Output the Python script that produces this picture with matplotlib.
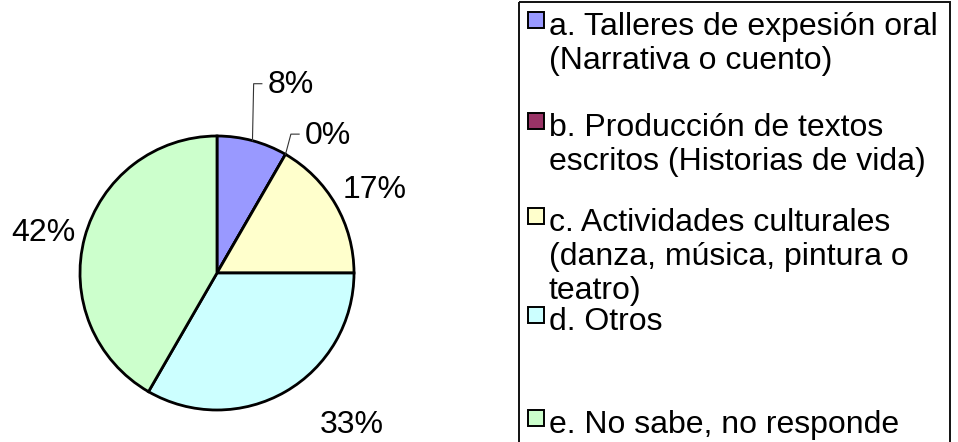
#!/usr/bin/env python3
"""Pie chart of preferred activities with a tall boxed legend on the right."""

import numpy as np
import matplotlib

matplotlib.use("Agg")
import matplotlib.pyplot as plt
from matplotlib.patches import Rectangle

# counts behind the rounded percentages (24 answers -> 8%, 0%, 17%, 33%, 42%)
categories = ["a", "b", "c", "d", "e"]
counts = [2, 0, 4, 8, 10]
pct_labels = ["8%", "0%", "17%", "33%", "42%"]
legend_lines = [
    ["a. Talleres de expesión oral", "(Narrativa o cuento)"],
    ["b. Producción de textos", "escritos (Historias de vida)"],
    ["c. Actividades culturales", "(danza, música, pintura o", "teatro)"],
    ["d. Otros"],
    ["e. No sabe, no responde"],
]
colors = ["#9999FF", "#993366", "#FFFFCC", "#CCFFFF", "#CCFFCC"]

# label placement (polar, relative to wedge middle) -- layout only
label_r = [1.42, 1.19, 1.30, 1.48, 1.30]
label_shift = [0.0, -2.5, -2.1, 11.6, 2.0]
label_ha = ["left", "left", "center", "center", "center"]
leader = [True, True, False, False, False]

# legend layout in pixels
entry_baseline = [35, 136, 231, 330, 433]
line_step = 34

plt.rcParams["font.family"] = ["Liberation Sans", "DejaVu Sans"]
FS = 23

W, H = 958, 442
fig = plt.figure(figsize=(W / 100, H / 100), dpi=100)

# legend drawn in a pixel-space overlay
lax = fig.add_axes([0, 0, 1, 1])
lax.set_xlim(0, W)
lax.set_ylim(H, 0)
lax.axis("off")
lax.add_patch(Rectangle((519, 1.5), 431, H + 10, fill=False, edgecolor="#111111",
                        lw=1.4, clip_on=False))
for i, lines in enumerate(legend_lines):
    b = entry_baseline[i]
    lax.add_patch(Rectangle((528, b - 23), 16, 16, facecolor=colors[i],
                            edgecolor="black", lw=1.4))
    for j, line in enumerate(lines):
        lax.text(549, b + j * line_step, line, fontsize=FS, va="baseline", ha="left")

# pie: centre at pixel (217, 273), radius 137 px
cx, cy, R = 217, 273, 137
ax = fig.add_axes([0, 0, 434 / W, 1])
wedges, _ = ax.pie(counts, colors=colors, startangle=90, counterclock=False,
                   wedgeprops=dict(edgecolor="black", linewidth=2.0))
ax.set_xlim(-cx / R, cx / R)
ax.set_ylim(-(H - cy) / R, cy / R)
ax.set_aspect("equal", adjustable="box")
ax.axis("off")

for i, w in enumerate(wedges):
    mid = np.deg2rad((w.theta1 + w.theta2) / 2)
    ang = mid + np.deg2rad(label_shift[i])
    tx, ty = label_r[i] * np.cos(ang), label_r[i] * np.sin(ang)
    ax.text(tx, ty, pct_labels[i], fontsize=FS, ha=label_ha[i], va="center",
            clip_on=False)
    if leader[i]:
        ex, ey = np.cos(mid), np.sin(mid)
        ax.plot([ex, tx - 0.10, tx - 0.04], [ey, ty + 0.01, ty + 0.01],
                color="#333333", lw=0.8, clip_on=False)

fig.savefig("out.png", dpi=100)
